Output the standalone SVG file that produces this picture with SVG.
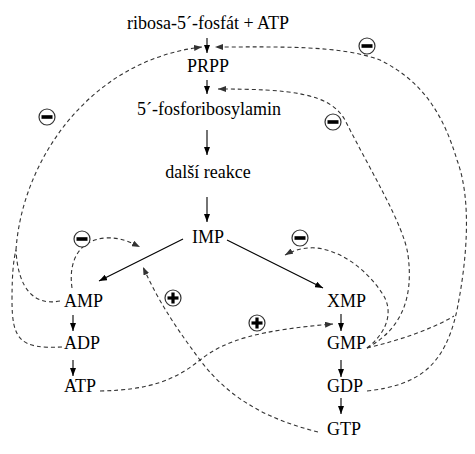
<svg xmlns="http://www.w3.org/2000/svg" width="475" height="454" viewBox="0 0 475 454">
<style>
text{font-family:"Liberation Serif","Times New Roman",serif;font-size:18px;fill:#000}
.c{text-anchor:middle}
.s{fill:none;stroke:#000;stroke-width:1.1}
.d{fill:none;stroke:#333;stroke-width:1.1;stroke-dasharray:4,3}
</style>
<defs>
<marker id="ah" markerUnits="userSpaceOnUse" markerWidth="8" markerHeight="6" refX="8" refY="3" orient="auto"><path d="M0,0 L8,3 L0,6 z" fill="#000"/></marker>
<marker id="ahd" markerUnits="userSpaceOnUse" markerWidth="8" markerHeight="6" refX="8" refY="3" orient="auto"><path d="M0,0 L8,3 L0,6 z" fill="#333"/></marker>
<g id="minus"><circle r="8" fill="#fff" stroke="#333" stroke-width="1.2"/><rect x="-5.5" y="-1.8" width="11" height="3.6" fill="#000"/></g>
<g id="plus"><circle r="8" fill="#fff" stroke="#333" stroke-width="1.2"/><rect x="-5.5" y="-1.6" width="11" height="3.2" fill="#000"/><rect x="-1.6" y="-5.5" width="3.2" height="11" fill="#000"/></g>
</defs>

<g id="connectors">
<path class="s" d="M207,38 V53" marker-end="url(#ah)"/>
<path class="s" d="M207,80 V94" marker-end="url(#ah)"/>
<path class="s" d="M207,130 V155" marker-end="url(#ah)"/>
<path class="s" d="M207,197 V222" marker-end="url(#ah)"/>
<path class="s" d="M183,239 L99,281" marker-end="url(#ah)"/>
<path class="s" d="M227,240 L323,288" marker-end="url(#ah)"/>
<path class="s" d="M73,315 V331" marker-end="url(#ah)"/>
<path class="s" d="M73,360 V376" marker-end="url(#ah)"/>
<path class="s" d="M341,314 V331" marker-end="url(#ah)"/>
<path class="s" d="M341,360 V377" marker-end="url(#ah)"/>
<path class="s" d="M341,398 V414" marker-end="url(#ah)"/>

<path class="d" d="M16,250 C22,160 90,60 202,47" marker-end="url(#ahd)"/>
<path class="d" d="M60,301 C35,306 18,290 16,250"/>
<path class="d" d="M62,347 C20,349 12,340 12,300 C12,270 14,258 16,250"/>
<path class="d" d="M72,288 C68,260 80,240 105,238 C120,237 130,242 140,247" marker-end="url(#ahd)"/>
<path class="d" d="M100,391 C150,390 175,380 200,360 C225,340 260,330 333,324" marker-end="url(#ahd)"/>
<path class="d" d="M318,432 C270,420 230,400 200,360 C180,333 160,305 143,267" marker-end="url(#ahd)"/>
<path class="d" d="M367,348 C388,332 394,310 382,293 C368,272 345,252 317,248 C305,247 294,250 285,255" marker-end="url(#ahd)"/>
<path class="d" d="M367,348 C400,330 414,300 408,255 C404,225 370,170 345,120 C330,93 290,89 218,89" marker-end="url(#ahd)"/>
<path class="d" d="M367,391 C420,385 445,365 457,310 C467,260 472,200 457,160 C442,110 420,80 380,60 C340,45 280,47 215,47" marker-end="url(#ahd)"/>
<path class="d" d="M367,348 C400,340 430,330 454,316"/>
</g>

<g id="signs">
<use href="#minus" x="367" y="46"/>
<use href="#minus" x="333" y="122"/>
<use href="#minus" x="47" y="117"/>
<use href="#minus" x="82" y="239"/>
<use href="#minus" x="300" y="238"/>
<use href="#plus" x="257" y="323"/>
<use href="#plus" x="173" y="298"/>
</g>

<g id="ribosa"><text class="c" x="208" y="29">ribosa-5´-fosfát + ATP</text></g>
<g id="prpp"><text class="c" x="208" y="72">PRPP</text></g>
<g id="fosforibosylamin"><text class="c" x="209" y="115">5´-fosforibosylamin</text></g>
<g id="dalsi"><text class="c" x="208" y="178">další reakce</text></g>
<g id="imp"><text class="c" x="208" y="243">IMP</text></g>
<g id="amp"><text x="64" y="307">AMP</text></g>
<g id="adp"><text x="64" y="349">ADP</text></g>
<g id="atp"><text x="64" y="392">ATP</text></g>
<g id="xmp"><text x="327" y="307">XMP</text></g>
<g id="gmp"><text x="327" y="349">GMP</text></g>
<g id="gdp"><text x="327" y="392">GDP</text></g>
<g id="gtp"><text x="327" y="435">GTP</text></g>
</svg>
